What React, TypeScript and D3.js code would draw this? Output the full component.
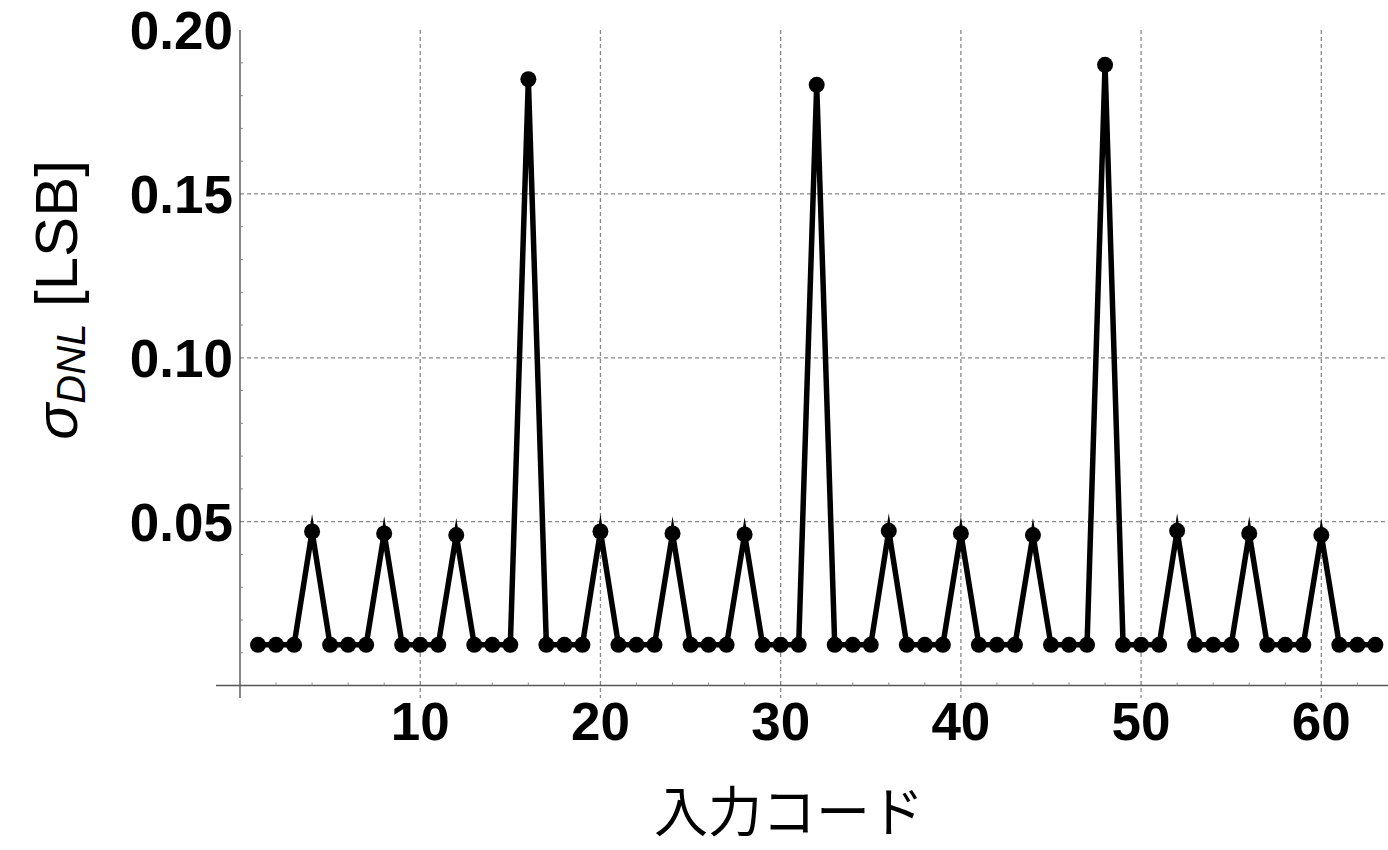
import React from "react";
import * as d3 from "d3";

const codes: number[] = Array.from({ length: 63 }, (_, i) => i + 1);
const sigmaDNL: number[] = [
  0.0124, 0.0124, 0.0124, 0.0470, 0.0124, 0.0124, 0.0124, 0.0464,
  0.0124, 0.0124, 0.0124, 0.0459, 0.0124, 0.0124, 0.0124, 0.1850,
  0.0124, 0.0124, 0.0124, 0.0470, 0.0124, 0.0124, 0.0124, 0.0464,
  0.0124, 0.0124, 0.0124, 0.0461, 0.0124, 0.0124, 0.0124, 0.1833,
  0.0124, 0.0124, 0.0124, 0.0472, 0.0124, 0.0124, 0.0124, 0.0464,
  0.0124, 0.0124, 0.0124, 0.0459, 0.0124, 0.0124, 0.0124, 0.1894,
  0.0124, 0.0124, 0.0124, 0.0472, 0.0124, 0.0124, 0.0124, 0.0464,
  0.0124, 0.0124, 0.0124, 0.0459, 0.0124, 0.0124, 0.0124,
];
const xTicks: number[] = [10, 20, 30, 40, 50, 60];
const yTicks: number[] = [0.05, 0.1, 0.15, 0.2];
const yGrid: number[] = [0.05, 0.1, 0.15];
const xTitle = "入力コード";

const W = 1388;
const H = 850;

export default function App() {
  const x = d3.scaleLinear().domain([0, 63.7]).range([240, 1388]);
  const y = d3.scaleLinear().domain([0, 0.2]).range([685.5, 30.1]);
  const pts = codes.map((c, i) => [c, sigmaDNL[i]] as [number, number]);
  const line = d3
    .line<[number, number]>()
    .x((d) => x(d[0]))
    .y((d) => y(d[1]));
  const minorX = d3.range(2, 64, 2).filter((v) => v % 10 !== 0);
  const minorY = d3.range(0.01, 0.2, 0.01).filter((v) => Math.abs(v * 20 - Math.round(v * 20)) > 1e-6);
  const tickFont = "'Liberation Sans', Arial, sans-serif";
  return (
    <div style={{ position: "fixed", left: 0, top: 0 }}>
      <svg width={W} height={H} style={{ display: "block", background: "#fff" }}>
        {/* grid */}
        {xTicks.map((t) => (
          <line key={"gx" + t} x1={x(t)} x2={x(t)} y1={y(0.2)} y2={698}
            stroke="#888" strokeWidth={1.3} strokeDasharray="4,3" />
        ))}
        {yGrid.map((t) => (
          <line key={"gy" + t} x1={x(0)} x2={W} y1={y(t)} y2={y(t)}
            stroke="#888" strokeWidth={1.3} strokeDasharray="4,3" />
        ))}
        {/* axes */}
        <line x1={216} x2={W} y1={y(0)} y2={y(0)} stroke="#555" strokeWidth={1.4} />
        <line x1={x(0)} x2={x(0)} y1={y(0.2)} y2={698} stroke="#555" strokeWidth={1.4} />
        {minorX.map((t) => (
          <line key={"mx" + t} x1={x(t)} x2={x(t)} y1={y(0) - 3} y2={y(0)} stroke="#888" strokeWidth={1} />
        ))}
        {minorY.map((t) => (
          <line key={"my" + t} x1={x(0)} x2={x(0) + 3} y1={y(t)} y2={y(t)} stroke="#888" strokeWidth={1} />
        ))}
        {/* tick labels */}
        {xTicks.map((t) => (
          <text key={"tx" + t} x={x(t)} y={740} textAnchor="middle"
            fontFamily={tickFont} fontWeight="bold" fontSize={53} fill="#000">
            {String(t)}
          </text>
        ))}
        {yTicks.map((t) => (
          <text key={"ty" + t} x={233} y={y(t) + 19} textAnchor="end"
            fontFamily={tickFont} fontWeight="bold" fontSize={53} fill="#000">
            {t.toFixed(2)}
          </text>
        ))}
        {/* data */}
        <path d={line(pts) || ""} fill="none" stroke="#000" strokeWidth={5.5}
          strokeLinejoin="miter" strokeMiterlimit={10} />
        {pts.map((d, i) => (
          <circle key={"p" + i} cx={x(d[0])} cy={y(d[1])} r={8} fill="#000" />
        ))}
        {/* titles */}
        <text x={789} y={832} textAnchor="middle" fontFamily="'Noto Sans CJK JP', sans-serif"
          fontSize={54} fill="#000">
          {xTitle}
        </text>
        <text transform="translate(77,300) rotate(-90)" textAnchor="middle"
          fontFamily={tickFont} fontSize={60} fill="#000">
          <tspan fontStyle="italic">σ</tspan>
          <tspan fontStyle="italic" fontSize={40} dy={8}>DNL</tspan>
          <tspan dy={-8}> [LSB]</tspan>
        </text>
      </svg>
    </div>
  );
}
